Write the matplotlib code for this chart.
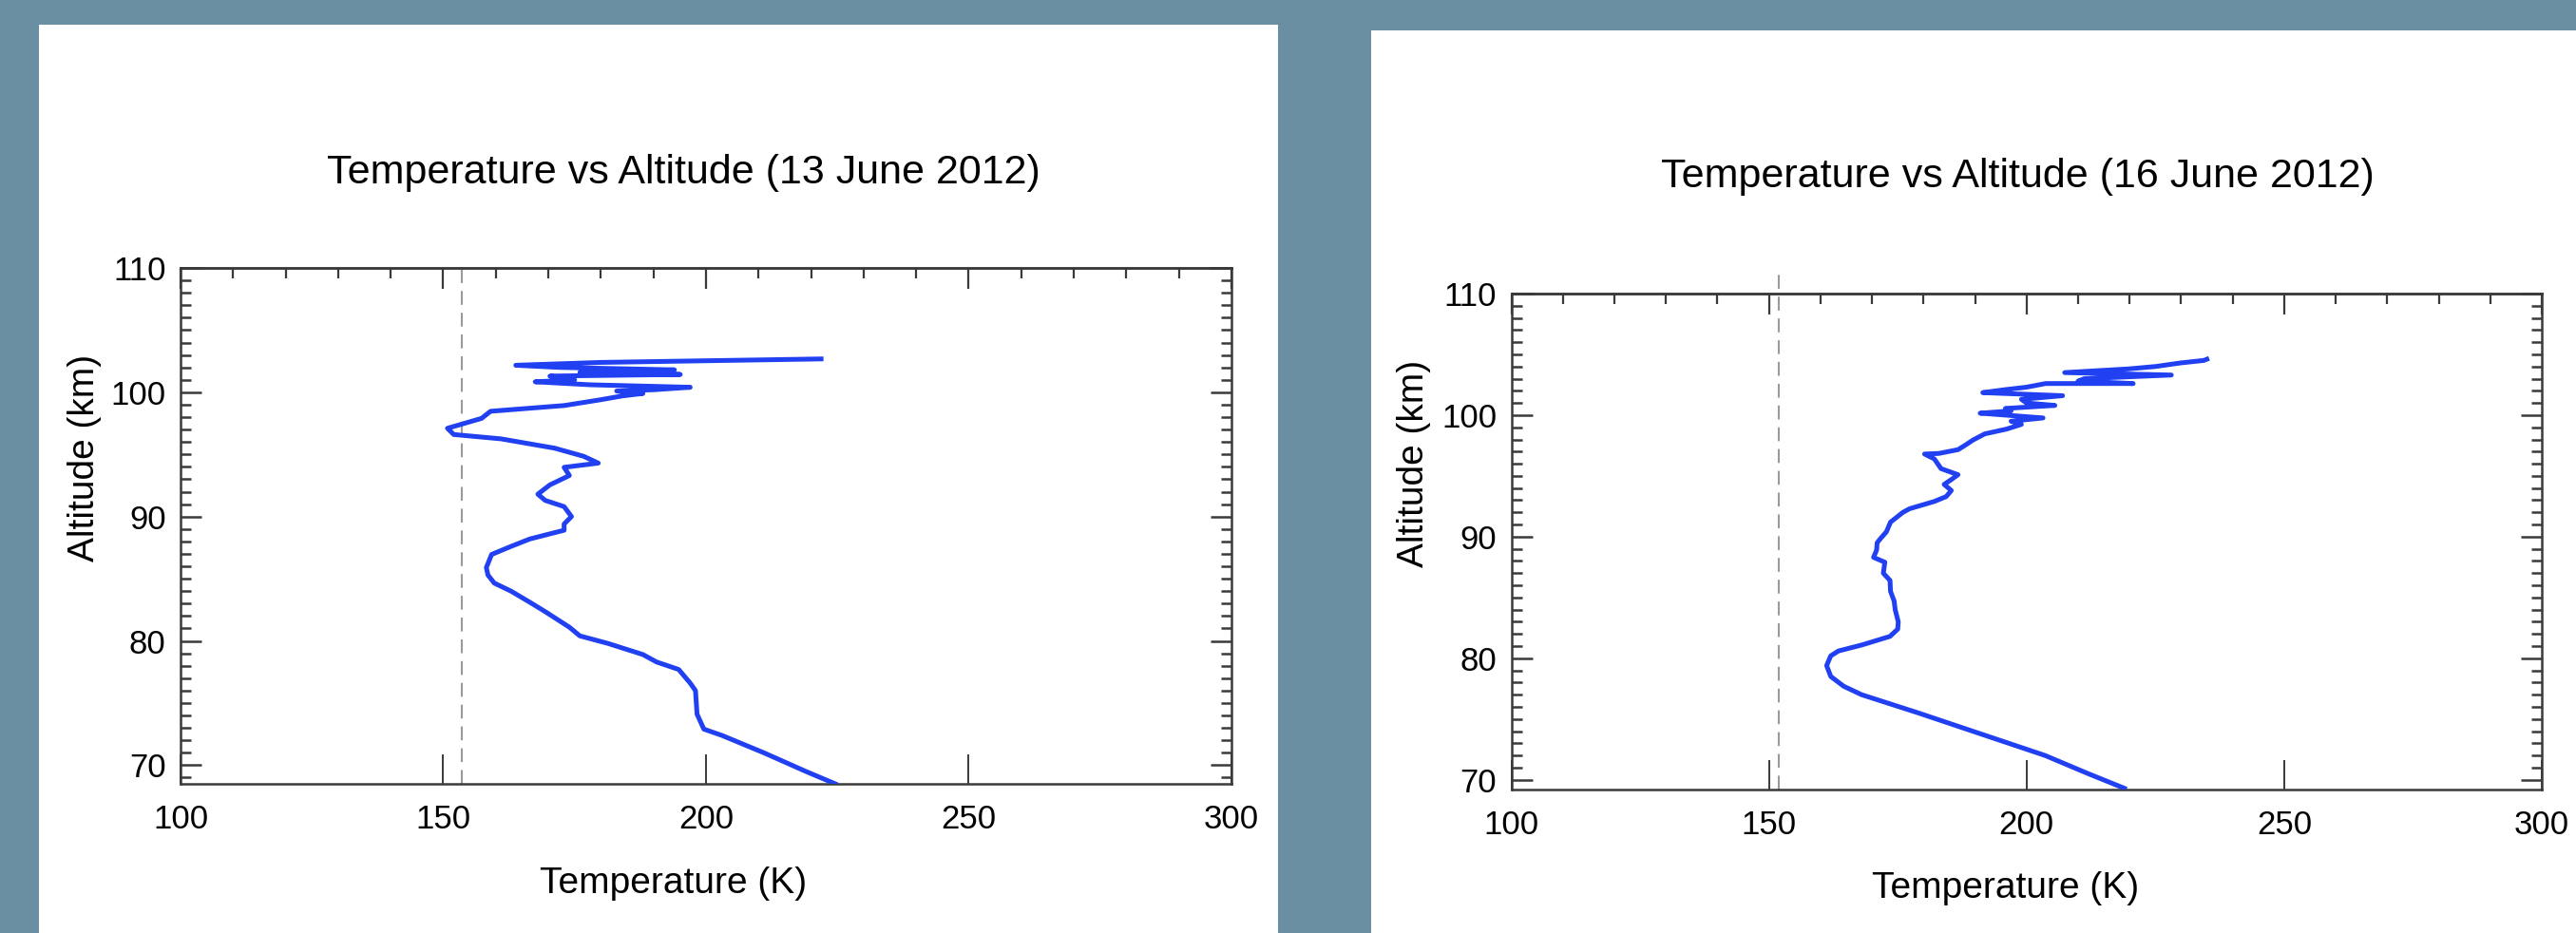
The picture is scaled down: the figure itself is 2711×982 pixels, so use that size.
import numpy as np
import matplotlib
matplotlib.use('Agg')
import matplotlib.pyplot as plt
from matplotlib.ticker import MultipleLocator, NullFormatter
from matplotlib.patches import Rectangle

plt.rcParams['font.family'] = ['Liberation Sans', 'DejaVu Sans']

# 13 June 2012 profile (altitude km, temperature K)
alt_13 = [68.5, 69.5, 71.0, 72.4, 72.9, 74.1, 76.0, 76.6, 77.7, 78.3, 78.9, 79.8,
          80.4, 81.1, 82.35, 83.1, 84.0, 84.65, 85.3, 85.9, 86.95, 87.6, 88.2,
          88.9, 89.4, 90.0, 90.8, 91.3, 91.8, 92.55, 93.3, 93.96, 94.3, 94.85,
          95.5, 96.25, 96.6, 97.1, 97.9, 98.47, 98.93, 99.4, 99.7, 99.9, 100.1,
          100.2, 100.4, 100.6, 100.84, 101.0, 101.3, 101.43, 101.6, 101.8, 102.0,
          102.17, 102.4, 102.6, 102.68]
temp_13 = [224.6, 219, 211, 203, 199.6, 198.3, 198, 197, 194.8, 190.6, 188, 181.3,
           176, 174, 169.4, 166.5, 162.9, 159.7, 158.5, 158.2, 159.2, 162.9, 166.5,
           173, 173, 174.4, 173, 169.4, 168, 170.3, 174, 173, 179.5, 176.7,
           171.2, 161, 152, 150.8, 157.3, 159, 173, 180, 184, 188, 183,
           190, 197, 178, 167.5, 175, 170.3, 195.1, 176, 194, 172,
           163.8, 180, 210, 221.9]

# 16 June 2012 profile
alt_16 = [69.3, 70.5, 72.0, 73.75, 75.5, 77.0, 77.7, 78.5, 79.4, 80.2, 80.6, 81.1,
          81.8, 82.4, 83.0, 84.0, 84.7, 85.5, 86.4, 87.0, 87.9, 88.3, 88.9, 89.5,
          89.87, 90.4, 91.2, 92.0, 92.3, 92.9, 93.3, 93.8, 94.3, 94.7, 95.1, 95.6,
          96.4, 96.8, 96.85, 97.16, 97.5, 97.95, 98.46, 98.85, 99.24, 99.5, 99.77,
          100.0, 100.16, 100.35, 100.55, 100.8, 101.0, 101.3, 101.6, 101.85, 102.1,
          102.3, 102.6, 102.6, 102.8, 103.0, 103.3, 103.5, 103.8, 104.0, 104.3,
          104.5, 104.6]
temp_16 = [219, 212, 203.6, 191.3, 179, 168, 164.5, 162, 161.2, 162, 163.5, 168.1,
           173.5, 175, 175.1, 174.5, 174.3, 173.6, 173.5, 172.2, 172.5, 170.3, 170.9, 171,
           171.7, 172.8, 173.6, 176.0, 177.3, 182.1, 184.4, 185.4, 184, 185.4, 186.7, 183.4,
           182.1, 180.2, 183, 186.7, 188, 189.6, 191.9, 196.1, 199.0, 197, 203.2,
           196, 191.0, 197, 195.9, 205.5, 200, 199, 207, 191.5, 195.9,
           200, 203.7, 220.7, 210, 211.2, 228.1, 207.4, 219.7, 225, 230,
           234.4, 235]

titles = ['Temperature vs Altitude (13 June 2012)', 'Temperature vs Altitude (16 June 2012)']
ref_temps = [153.5, 152.0]

bg = '#6a8fa2'
line_blue = '#2040f2'
spine_col = '#3a3a3a'

fig = plt.figure(figsize=(27.11, 9.82), dpi=100, facecolor=bg)

# white panels behind the plots
fig.patches.append(Rectangle((0.01512, 0.0), 0.48100, 0.97352, transform=fig.transFigure,
                             facecolor='white', edgecolor='none', zorder=-10))
fig.patches.append(Rectangle((0.53228, 0.0), 0.46772, 0.96741, transform=fig.transFigure,
                             facecolor='white', edgecolor='none', zorder=-10))

ax1 = fig.add_axes([0.07008, 0.15988, 0.40797, 0.55295], zorder=2)
ax2 = fig.add_axes([0.58669, 0.15377, 0.40003, 0.53157], zorder=2)


def style(ax, ymin):
    ax.set_xlim(100, 300)
    ax.set_ylim(ymin, 110)
    ax.set_facecolor('white')
    for s in ax.spines.values():
        s.set_color(spine_col)
        s.set_linewidth(1.8)
    ax.xaxis.set_major_locator(MultipleLocator(50))
    ax.yaxis.set_major_locator(MultipleLocator(10))
    ax.yaxis.set_minor_locator(MultipleLocator(1))
    ax.tick_params(axis='x', which='major', direction='in', length=22, width=1.4,
                   color=spine_col, top=False, bottom=True, pad=15, labelsize=25)
    ax.tick_params(axis='y', which='major', direction='in', length=16, width=1.8,
                   color=spine_col, left=True, right=True, pad=11, labelsize=25)
    ax.tick_params(axis='y', which='minor', direction='in', length=8, width=1.8,
                   color=spine_col, left=True, right=True)
    top = ax.secondary_xaxis('top')
    top.spines['top'].set_linewidth(1.8)
    top.spines['top'].set_color(spine_col)
    top.xaxis.set_major_locator(MultipleLocator(50))
    top.xaxis.set_minor_locator(MultipleLocator(10))
    top.xaxis.set_major_formatter(NullFormatter())
    top.tick_params(which='major', direction='in', length=16, width=1.6, color=spine_col)
    top.tick_params(which='minor', direction='in', length=8, width=1.6, color=spine_col)


style(ax1, 68.5)
style(ax2, 69.2)

ax1.plot([ref_temps[0], ref_temps[0]], [68.5, 110], color='#9a9a9a', lw=1.5,
         dashes=(7, 4), zorder=1)
ax2.plot([ref_temps[1], ref_temps[1]], [69.2, 111.9], color='#9a9a9a', lw=1.5,
         dashes=(7, 4), zorder=1, clip_on=False)

ax1.plot(temp_13, alt_13, color=line_blue, lw=3.6, zorder=3)
ax2.plot(temp_16, alt_16, color=line_blue, lw=3.6, zorder=3)

fig.text(0.2652, 0.8147, titles[0], fontsize=31, ha='center', va='center')
fig.text(0.7831, 0.8106, titles[1], fontsize=31, ha='center', va='center')
fig.text(0.2612, 0.0530, 'Temperature (K)', fontsize=28, ha='center', va='center')
fig.text(0.7787, 0.0479, 'Temperature (K)', fontsize=28, ha='center', va='center')
fig.text(0.0328, 0.5092, 'Altitude (km)', fontsize=28, rotation=90, ha='center', va='center')
fig.text(0.5489, 0.5031, 'Altitude (km)', fontsize=28, rotation=90, ha='center', va='center')

fig.savefig('out.png', dpi=100, facecolor=bg)
